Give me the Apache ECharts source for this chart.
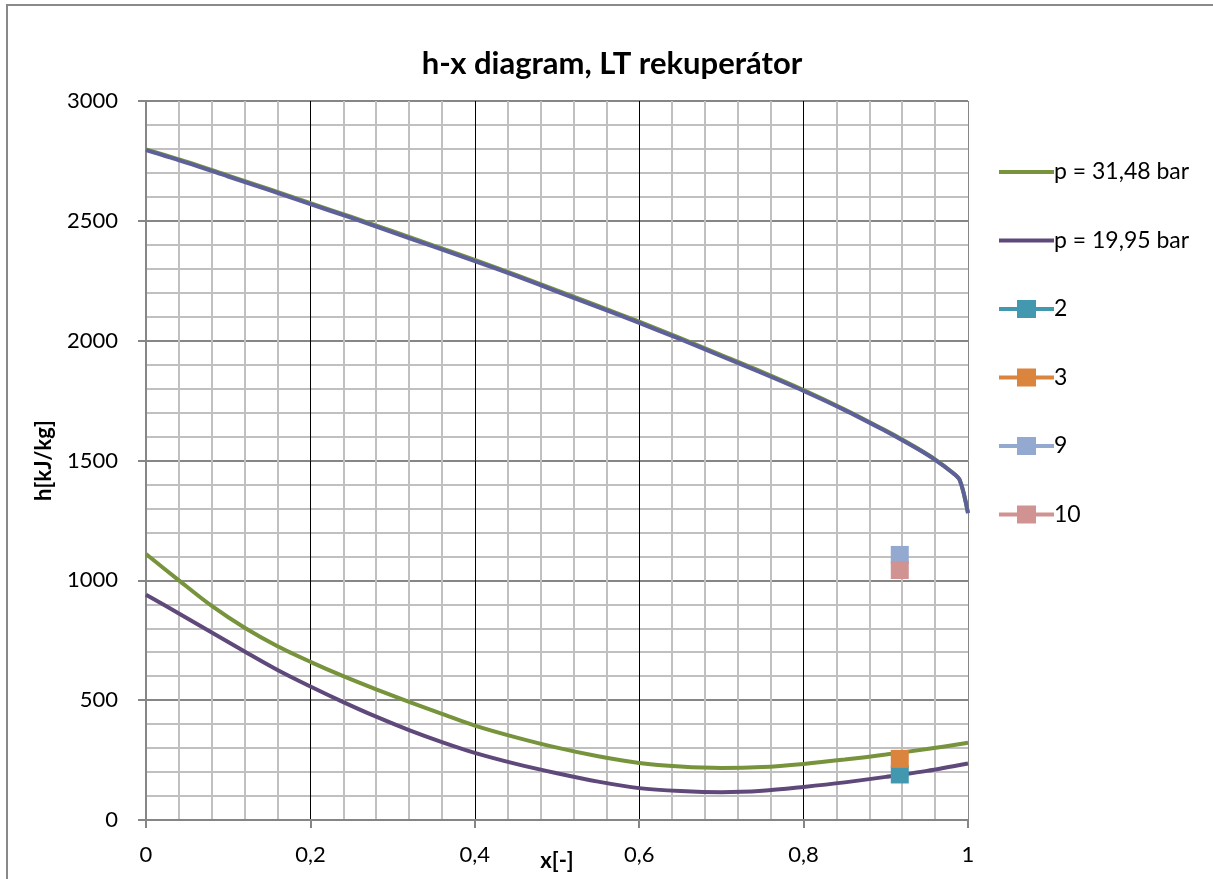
<!DOCTYPE html>
<html>
<head>
<meta charset="utf-8">
<script src="https://cdn.jsdelivr.net/npm/echarts@6/dist/echarts.min.js"></script>
<style>
html,body{margin:0;padding:0;background:#fff;}
#chart{width:1213px;height:879px;}
</style>
</head>
<body>
<div id="chart"></div>
<script>
// ---- data ----
const title = 'h-x diagram, LT rekuperátor';
const xLower = [0,0.04,0.08,0.12,0.16,0.2,0.24,0.28,0.32,0.36,0.4,0.45,0.5,0.55,0.6,0.65,0.7,0.75,0.8,0.85,0.9,0.95,1];
const greenLower = [1110,1000,893,802,725,660,600,545,493,443,394,345,302,266,238,223,217,221,234,252,273,296,322];
const purpleLower = [940,862,782,703,626,557,492,431,375,325,280,234,195,160,133,121,116,122,138,157,180,205,236];
const xUpper = [0,0.05,0.1,0.15,0.2,0.25,0.3,0.35,0.4,0.45,0.5,0.55,0.6,0.65,0.7,0.75,0.8,0.85,0.9,0.92,0.94,0.96,0.98,0.99,1];
const greenUpper = [2798,2746,2689,2632,2574,2516,2457,2397,2337,2275,2210,2145,2079,2011,1940,1869,1794,1713,1625,1588,1548,1505,1453,1419,1280];
const purpleUpper = [2795,2742,2685,2628,2570,2512,2452,2392,2332,2270,2205,2140,2074,2006,1935,1864,1790,1710,1622,1585,1546,1503,1452,1418,1280];
const pointNames = ['2','3','9','10'];
const pointX = [0.917,0.917,0.917,0.917];
const pointH = [190,255,1106,1043];
const lineNames = ['p = 31,48 bar','p = 19,95 bar'];

const FONT = 'Lato, "Open Sans", sans-serif';
const zip = (xs, ys) => xs.map((x, i) => [x, ys[i]]);
const comma = v => String(Math.round(v * 1000) / 1000).replace('.', ',');

const markerColors = ['#4198AF','#DB843D','#93A9CF','#D19392'];
const LINE_ICON = 'path://M0,7H55V11H0Z';
const MARK_ICON = 'path://M0,7H18V0H37V7H55V11H37V18H18V11H0Z';

const series = [
  {name: lineNames[0], type:'line', data: zip(xLower, greenLower), symbol:'none', smooth:0.3,
   lineStyle:{color:'#77933C', width:4}, itemStyle:{color:'#77933C'}, z:3},
  {name: lineNames[0], type:'line', data: zip(xUpper, greenUpper), symbol:'none', smooth:0.3,
   lineStyle:{color:'#77933C', width:4}, itemStyle:{color:'#77933C'}, z:3},
  {name: lineNames[1], type:'line', data: zip(xLower, purpleLower), symbol:'none', smooth:0.3,
   lineStyle:{color:'#5F497A', width:4}, itemStyle:{color:'#5F497A'}, z:4},
  {name: lineNames[1], type:'line', data: zip(xUpper, purpleUpper), symbol:'none', smooth:0.3,
   lineStyle:{color:'#5E6199', width:4}, itemStyle:{color:'#5E6199'}, z:4}
];
pointNames.forEach((n, i) => {
  series.push({name:n, type:'line', data:[[pointX[i], pointH[i]]], symbol:'rect', symbolSize:18,
    itemStyle:{color:markerColors[i]}, lineStyle:{color:markerColors[i], width:4}, z:5});
});

const legendData = lineNames.map(n => ({name:n, icon:LINE_ICON}))
  .concat(pointNames.map(n => ({name:n, icon:MARK_ICON})));

const chart = echarts.init(document.getElementById('chart'), null, {renderer:'canvas'});
chart.setOption({
  animation:false,
  backgroundColor:'#fff',
  textStyle:{fontFamily:FONT},
  title:{text:title, left:607, top:43, textAlign:'center',
    textStyle:{fontFamily:FONT, fontWeight:'bold', fontSize:31, color:'#000'}},
  grid:{left:146, right:245, top:101, bottom:59, containLabel:false, outerBoundsMode:'none'},
  legend:{orient:'vertical', left:994, top:155, itemWidth:55, itemHeight:18, itemGap:44.5,
    data:legendData,
    textStyle:{fontFamily:FONT, fontSize:23, lineHeight:24, color:'#000', padding:[0,0,0,-5]}},
  xAxis:{type:'value', min:0, max:1, interval:0.2,
    name:'x[-]', nameLocation:'middle', nameGap:30, nameMoveOverlap:false,
    nameTextStyle:{fontFamily:FONT, fontWeight:'bold', fontSize:22, color:'#000'},
    axisLine:{show:true, onZero:false, lineStyle:{color:'#868686', width:2}},
    axisTick:{show:true, inside:false, length:8, lineStyle:{color:'#868686', width:2}},
    axisLabel:{margin:24, fontSize:22, color:'#000', fontFamily:FONT, formatter: v => comma(v)},
    splitLine:{show:true, lineStyle:{color:['#868686','#000','#000','#000','#000','#868686'], width:1}},
    minorTick:{show:false, splitNumber:5},
    minorSplitLine:{show:true, lineStyle:{color:'#C0C0C0', width:2}}
  },
  yAxis:{type:'value', min:0, max:3000, interval:500,
    name:'h[kJ/kg]', nameLocation:'middle', nameGap:91, nameRotate:90, nameMoveOverlap:false,
    nameTextStyle:{fontFamily:FONT, fontWeight:'bold', fontSize:22, color:'#000'},
    axisLine:{show:true, onZero:false, lineStyle:{color:'#868686', width:2}},
    axisTick:{show:true, inside:false, length:8, lineStyle:{color:'#868686', width:2}},
    axisLabel:{margin:28, fontSize:22, color:'#000', fontFamily:FONT, formatter: v => String(v)},
    splitLine:{show:true, lineStyle:{color:'#868686', width:2}},
    minorTick:{show:false, splitNumber:5},
    minorSplitLine:{show:true, lineStyle:{color:'#C0C0C0', width:2}}
  },
  graphic:[{type:'rect', shape:{x:7, y:5, width:1240, height:920}, style:{fill:null, stroke:'#898989', lineWidth:2}, silent:true, z:-10}],
  series: series
});
</script>
</body>
</html>
